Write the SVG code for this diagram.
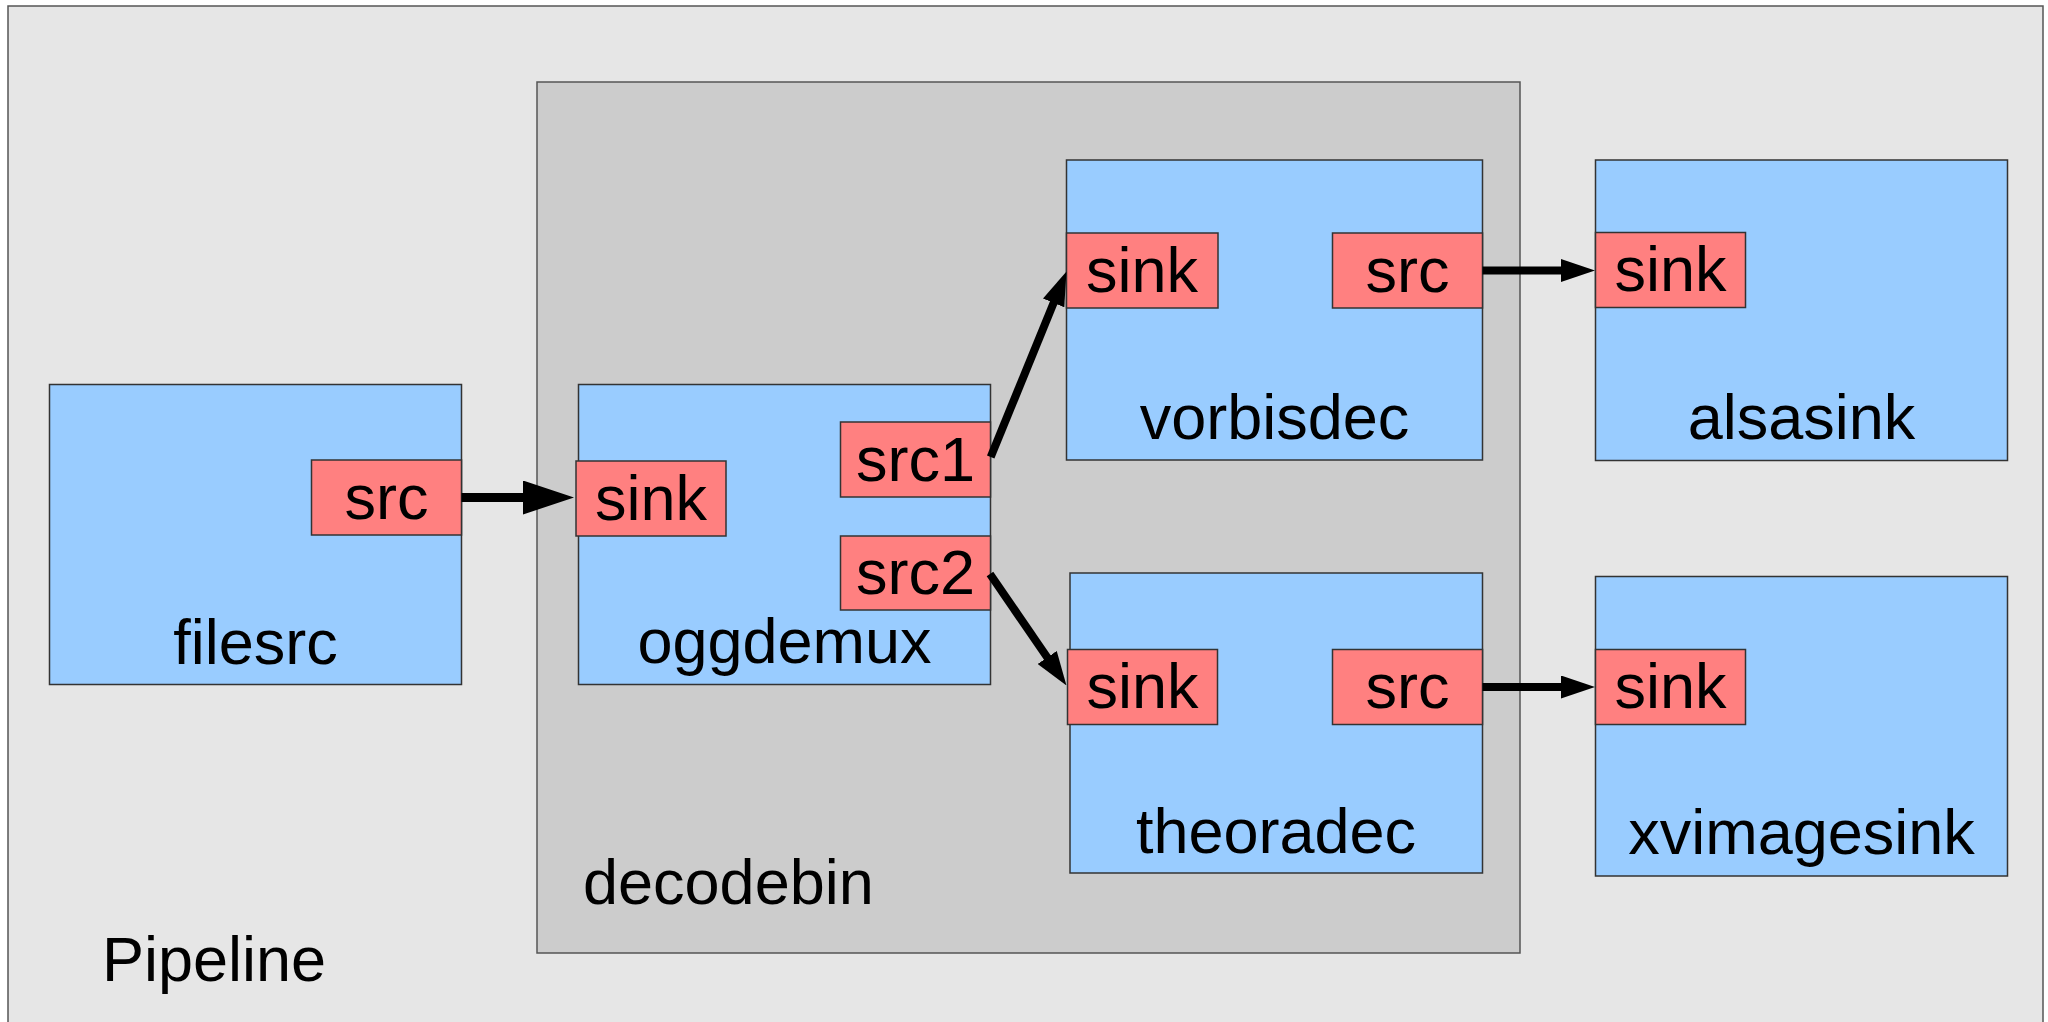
<svg xmlns="http://www.w3.org/2000/svg" width="2048" height="1022" viewBox="0 0 2048 1022">
<style>
.container{stroke:#555;stroke-width:1.5}
.elem{fill:#99ccff;stroke:#333;stroke-width:1.5}
.pad{fill:#ff8080;stroke:#333;stroke-width:1.5}
text{font-family:"Liberation Sans",Arial,sans-serif;font-size:63px;fill:#000}
.c{text-anchor:middle}
.conn{stroke:#000;fill:none}
</style>
<defs>
<marker id="bigHead" markerUnits="userSpaceOnUse" viewBox="0 0 51 34" markerWidth="51" markerHeight="34" refX="1" refY="17" orient="auto"><path d="M0,0 L51,17 L0,34 Z" fill="#000"/></marker>
<marker id="head" markerUnits="userSpaceOnUse" viewBox="0 0 34 23" markerWidth="34" markerHeight="23" refX="1" refY="11.5" orient="auto"><path d="M0,0 L34,11.5 L0,23 Z" fill="#000"/></marker>
</defs>
<rect width="2048" height="1022" fill="#fff"/>
<g id="pipeline">
<rect class="container" x="8" y="6" width="2035" height="1030" fill="#e6e6e6"/>
<text x="102" y="981">Pipeline</text>
</g>
<g id="decodebin">
<rect class="container" x="537" y="82" width="983" height="871" fill="#cccccc"/>
<text x="583" y="904">decodebin</text>
</g>
<g id="filesrc">
<rect class="elem" x="49.5" y="384.5" width="412" height="300"/>
<text class="c" x="255.5" y="664">filesrc</text>
<rect class="pad" x="311.5" y="460" width="150" height="75"/>
<text class="c" x="386.5" y="519">src</text>
</g>
<g id="oggdemux">
<rect class="elem" x="578.5" y="384.5" width="412" height="300"/>
<text class="c" x="784.5" y="663">oggdemux</text>
<rect class="pad" x="576" y="461" width="150" height="75"/>
<text class="c" x="651" y="519.5">sink</text>
<rect class="pad" x="840.5" y="422" width="150" height="75"/>
<text class="c" x="915.5" y="480.5">src1</text>
<rect class="pad" x="840.5" y="536" width="150" height="74"/>
<text class="c" x="915.5" y="594">src2</text>
</g>
<g id="vorbisdec">
<rect class="elem" x="1066.5" y="160" width="416" height="300"/>
<text class="c" x="1274.5" y="439">vorbisdec</text>
<rect class="pad" x="1066.5" y="233" width="151.5" height="75"/>
<text class="c" x="1142" y="291.5">sink</text>
<rect class="pad" x="1332.5" y="233" width="150" height="75"/>
<text class="c" x="1407.5" y="291.5">src</text>
</g>
<g id="theoradec">
<rect class="elem" x="1070" y="573" width="412.5" height="300"/>
<text class="c" x="1276" y="852.5">theoradec</text>
<rect class="pad" x="1067.5" y="649.5" width="150" height="75"/>
<text class="c" x="1142.5" y="708">sink</text>
<rect class="pad" x="1332.5" y="649.5" width="150" height="75"/>
<text class="c" x="1407.5" y="708">src</text>
</g>
<g id="alsasink">
<rect class="elem" x="1595.5" y="160" width="412" height="300.5"/>
<text class="c" x="1801.5" y="439">alsasink</text>
<rect class="pad" x="1595.5" y="232.5" width="150" height="75"/>
<text class="c" x="1670.5" y="291">sink</text>
</g>
<g id="xvimagesink">
<rect class="elem" x="1595.5" y="576.5" width="412" height="299.5"/>
<text class="c" x="1801.5" y="854">xvimagesink</text>
<rect class="pad" x="1595.5" y="649.5" width="150" height="75"/>
<text class="c" x="1670.5" y="708">sink</text>
</g>
<g id="connectors">
<line class="conn" x1="461.5" y1="497.5" x2="524" y2="497.5" stroke-width="9" marker-end="url(#bigHead)"/>
<line class="conn" x1="990.7" y1="457" x2="1054" y2="302" stroke-width="8" marker-end="url(#head)"/>
<line class="conn" x1="990" y1="574" x2="1047.8" y2="658.3" stroke-width="8" marker-end="url(#head)"/>
<line class="conn" x1="1482.5" y1="270.5" x2="1562" y2="270.5" stroke-width="8" marker-end="url(#head)"/>
<line class="conn" x1="1482.5" y1="687" x2="1562" y2="687" stroke-width="8" marker-end="url(#head)"/>
</g>
</svg>
